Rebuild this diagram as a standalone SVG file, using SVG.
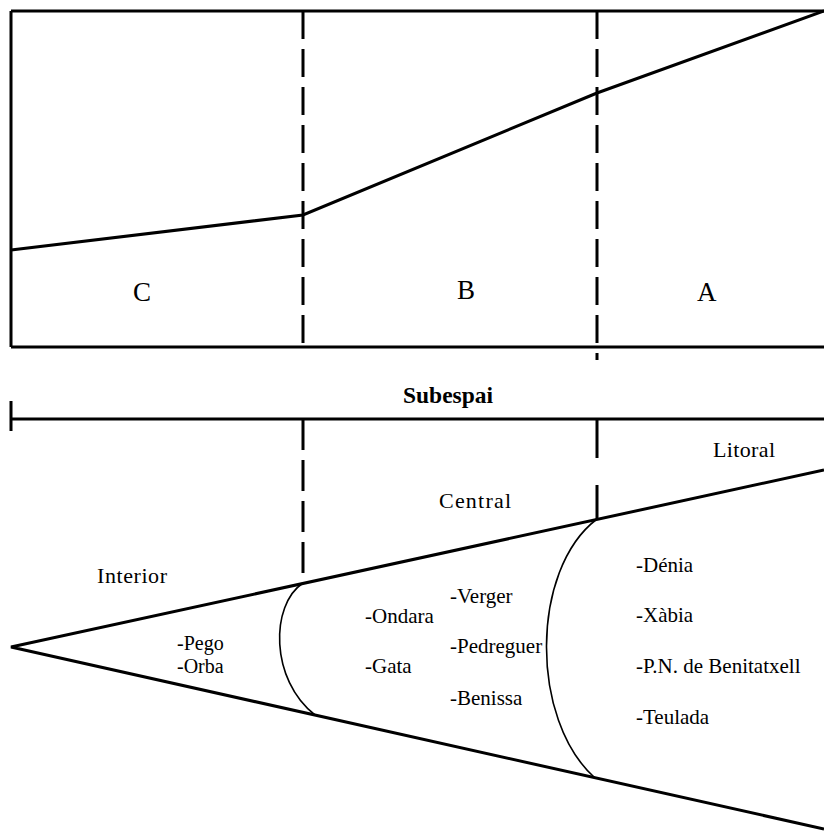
<svg xmlns="http://www.w3.org/2000/svg" width="824" height="831" viewBox="0 0 824 831">
<style>
.ln{fill:none;stroke:#000;stroke-width:3;stroke-linecap:butt;stroke-linejoin:miter}
.dash{fill:none;stroke:#000;stroke-width:3;stroke-dasharray:28 10}
.arc{fill:none;stroke:#000;stroke-width:1.6}
.big{font-family:"Liberation Serif","Times New Roman",serif;font-size:27px;fill:#000}
.zone{font-family:"Liberation Serif","Times New Roman",serif;font-size:22px;fill:#000}
.town{font-family:"Liberation Serif","Times New Roman",serif;font-size:21px;fill:#000}
.title{font-family:"Liberation Serif","Times New Roman",serif;font-size:23px;font-weight:bold;fill:#000}
</style>
<rect width="824" height="831" fill="#fff"/>
<g id="connectors">
<path class="ln" d="M11,11 H824 M11,11 V347 M11,347 H824"/>
<path class="ln" d="M11,250 L303,215 L597,93 L824,11"/>
<path class="dash" d="M303,11 V347"/>
<path class="dash" d="M597,11 V360"/>
<path class="ln" d="M11,419 H824 M11,401 V431"/>
<path class="dash" d="M303,419 V582" style="stroke-dasharray:31 10"/>
<path class="ln" d="M597,419 V458 M597,485 V519"/>
<path class="ln" d="M824,470 L11,647 L824,829"/>
<path class="arc" d="M303,583 C270,605 270,680 315,715"/>
<path class="arc" d="M597,519 C530,570 530,720 595,778"/>
</g>
<g id="zone-C"><text class="big" x="133" y="301">C</text></g>
<g id="zone-B"><text class="big" x="457" y="299">B</text></g>
<g id="zone-A"><text class="big" x="697" y="301">A</text></g>
<g id="subespai"><text class="title" x="403" y="403" textLength="90" lengthAdjust="spacingAndGlyphs">Subespai</text></g>
<g id="litoral"><text class="zone" x="713" y="457" textLength="62">Litoral</text></g>
<g id="central"><text class="zone" x="439" y="508" textLength="72">Central</text></g>
<g id="interior"><text class="zone" x="97" y="583" textLength="70">Interior</text></g>
<g id="towns-interior">
<text class="town" x="177" y="650" style="font-size:20px">-Pego</text>
<text class="town" x="177" y="673" style="font-size:20px">-Orba</text>
</g>
<g id="towns-central">
<text class="town" x="450" y="603">-Verger</text>
<text class="town" x="365" y="623">-Ondara</text>
<text class="town" x="450" y="653">-Pedreguer</text>
<text class="town" x="365" y="673">-Gata</text>
<text class="town" x="450" y="705">-Benissa</text>
</g>
<g id="towns-litoral">
<text class="town" x="636" y="572">-Dénia</text>
<text class="town" x="636" y="622">-Xàbia</text>
<text class="town" x="636" y="673">-P.N. de Benitatxell</text>
<text class="town" x="636" y="724">-Teulada</text>
</g>
</svg>
